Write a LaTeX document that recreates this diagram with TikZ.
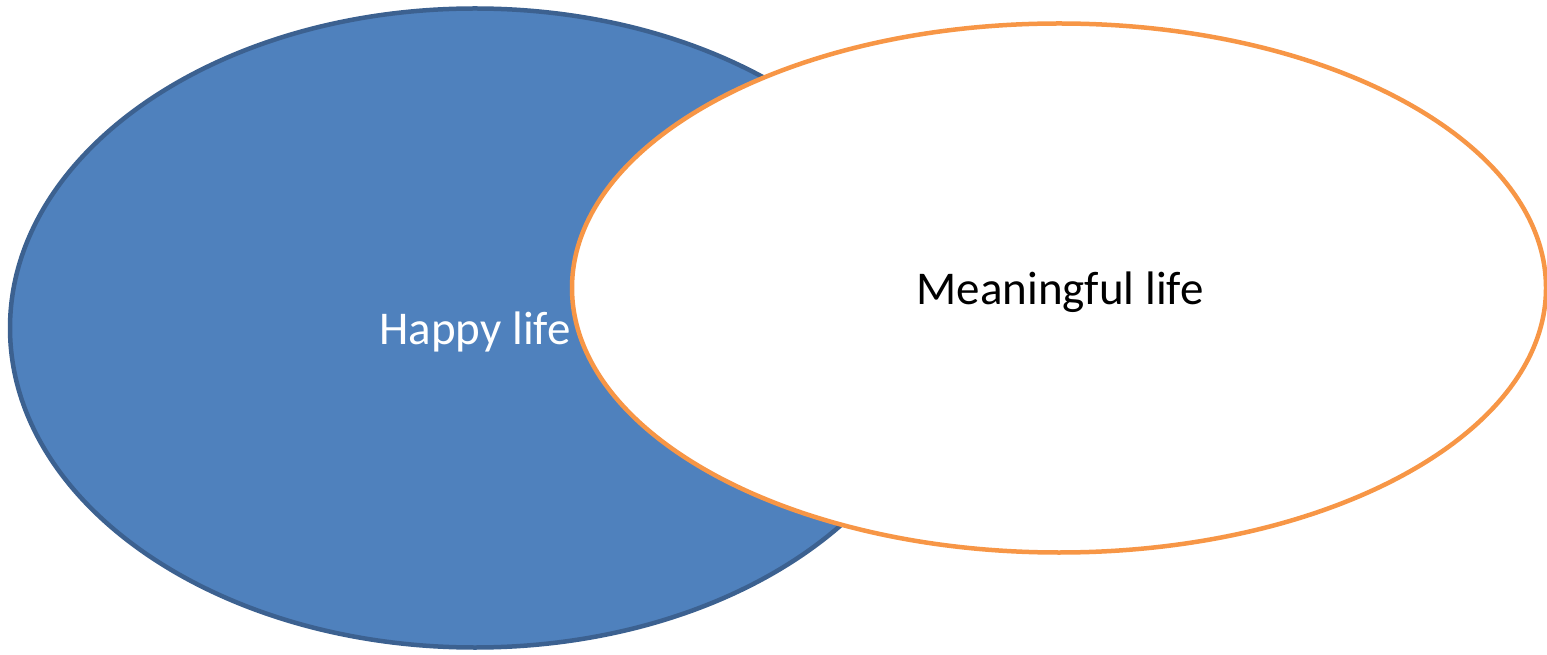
\documentclass[tikz,border=0pt]{standalone}
\usepackage{fontspec}
\setmainfont{Carlito}
\usetikzlibrary{shapes.geometric}
\definecolor{bluefill}{HTML}{4F81BD}
\definecolor{bluedraw}{HTML}{3C6190}
\definecolor{orangedraw}{HTML}{F79646}
\tikzset{
  venn/.style={ellipse, inner sep=0pt, line width=4.5pt},
  label text/.style={font=\fontsize{47}{56}\selectfont, anchor=base, inner sep=0pt}
}
\begin{document}
\begin{tikzpicture}[x=1pt,y=1pt]
\useasboundingbox (0,0) rectangle (1547,654);
\node[venn, draw=bluedraw, fill=bluefill, minimum width=930pt, minimum height=639pt] (happy) at (475,326) {};
\node[label text, text=white] (happytext) at (475,309) {Happy life};
\node[venn, draw=orangedraw, fill=white, minimum width=974pt, minimum height=529pt] (meaning) at (1059,366) {};
\node[label text, text=black] (meaningtext) at (1060,349) {Meaningful life};
\end{tikzpicture}
\end{document}
